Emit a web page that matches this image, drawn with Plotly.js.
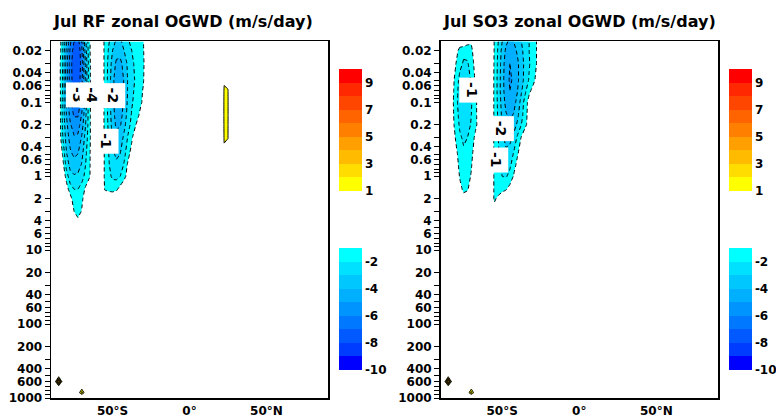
<!DOCTYPE html>
<html><head><meta charset="utf-8">
<script src="https://cdn.plot.ly/plotly-3.0.1.min.js"></script>
<style>html,body{margin:0;padding:0;background:#fff;}#chart{width:776px;height:419px;}</style>
</head><body><div id="chart"></div>
<script>
// ---- grid ----
const latSouth = [-90,-87.5,-85,-82.5,-80,-77.5,-75,-72.5,-70,-67.5,-65,-62.5,-60,-57.5,-55,-52.5,-50,-47.5,-45,-42.5,-40,-37.5,-35,-32.5,-30,-27.5,-25,-22.5];
const latNorth = [-20,-10,0,10,20,22.5,25,27.5,30,45,60,75,90];
const presUpper = [0.015,0.02,0.03,0.05,0.07,0.1,0.15,0.2,0.3,0.5,0.7,1,1.5,2,3,5];
const presLower = [10,100,400,500,600,700,850,925,1000];

// ---- RF: upper levels, southern block (m/s/day) ----
const rfSouth = [
 [0,0,0,-1.8,-3.8,-5.8,-7,-7.5,-5.8,-3.2,-1.2,0,0,0,-1.3,-1.9,-2.5,-3.2,-3.2,-2.6,-2.1,-1.8,-1.5,-1.3,-1.05,0,0,0],
 [0,0,0,-1.9,-4.2,-6.2,-7.5,-8,-6.2,-3.5,-1.2,0,0,0,-1.3,-2.1,-3,-3.6,-3.6,-3,-2.4,-2,-1.7,-1.4,-1.1,0,0,0],
 [0,0,-0.3,-2,-4.5,-6.5,-7.8,-8,-6.5,-3.8,-1.3,0,0,0,-1.3,-2.3,-3.4,-4.2,-4.3,-3.6,-2.8,-2.2,-1.8,-1.5,-1.15,-0.3,0,0],
 [0,0,-0.3,-2,-4.5,-6.5,-7.6,-7.8,-6.3,-3.8,-1.3,0,0,0,-1.3,-2.4,-3.7,-4.6,-4.7,-3.9,-2.9,-2.3,-1.9,-1.5,-1.1,0,0,0],
 [0,0,-0.2,-2,-4.3,-6.2,-7.2,-7.2,-5.9,-3.6,-1.3,0,0,0,-1.3,-2.4,-3.7,-4.7,-4.7,-3.9,-2.9,-2.2,-1.8,-1.4,-0.9,0,0,0],
 [0,0,0,-2.2,-4.2,-5.8,-6.8,-6.8,-5.5,-3.4,-1.3,0,0,0,-1.3,-2.4,-3.7,-4.6,-4.6,-3.8,-2.8,-2.1,-1.7,-1.3,-0.8,0,0,0],
 [0,0,0,-2.2,-4,-5.3,-6.1,-6.1,-4.9,-3.2,-1.3,0,0,0,-1.3,-2.3,-3.6,-4.4,-4.4,-3.6,-2.6,-1.9,-1.5,-0.9,0,0,0,0],
 [0,0,0,-2.1,-3.7,-4.9,-5.5,-5.5,-4.5,-3,-1.3,0,0,0,-1.3,-2.2,-3.4,-4.2,-4.1,-3.3,-2.4,-1.7,-1.1,0,0,0,0,0],
 [0,0,0,-1.9,-3.4,-4.4,-4.9,-4.8,-3.9,-2.6,-1.3,0,0,0,-1.2,-2.1,-3.1,-3.7,-3.5,-2.8,-1.9,-1.2,0,0,0,0,0,0],
 [0,0,0,-1.05,-2.9,-3.8,-4.2,-4,-3.3,-2.2,-1.2,0,0,0,-1.2,-2,-2.8,-3.2,-3,-2.3,-1.4,-0.5,0,0,0,0,0,0],
 [0,0,0,-0.5,-2.4,-3.3,-3.6,-3.5,-2.9,-2,-1.2,0,0,0,-1.2,-1.9,-2.5,-2.8,-2.6,-1.9,-0.8,0,0,0,0,0,0,0],
 [0,0,0,0,-1.4,-2.7,-2.9,-2.8,-2.4,-1.7,-1.15,0,0,0,-1.2,-1.7,-2.2,-2.3,-2,-1.4,-0.5,0,0,0,0,0,0,0],
 [0,0,0,0,-0.5,-1.5,-2,-2,-1.6,-0.8,0,0,0,0,-1.1,-1.3,-1.4,-1.2,-0.6,0,0,0,0,0,0,0,0,0],
 [0,0,0,0,0,-0.6,-1.6,-1.8,-1.3,-0.3,0,0,0,0,0,0,0,0,0,0,0,0,0,0,0,0,0,0],
 [0,0,0,0,0,0,-1,-1.6,-0.9,0,0,0,0,0,0,0,0,0,0,0,0,0,0,0,0,0,0,0],
 [0,0,0,0,0,0,0,0,0,0,0,0,0,0,0,0,0,0,0,0,0,0,0,0,0,0,0,0]
];
// RF: upper levels, equator/northern block
const rfNorth = [
 [0,0,0,0,0,0,0,0,0,0,0,0,0],
 [0,0,0,0,0,0,0,0,0,0,0,0,0],
 [0,0,0,0,0,0.3,0.3,0,0,0,0,0,0],
 [0,0,0,0,0,0.95,0.9,0,0,0,0,0,0],
 [0,0,0,0,0,1.05,1.02,0,0,0,0,0,0],
 [0,0,0,0,0,1.07,1.03,0,0,0,0,0,0],
 [0,0,0,0,0,1.07,1.03,0,0,0,0,0,0],
 [0,0,0,0,0,1.06,1.02,0,0,0,0,0,0],
 [0,0,0,0,0,1.04,1.01,0,0,0,0,0,0],
 [0,0,0,0,0,0.92,0.85,0,0,0,0,0,0],
 [0,0,0,0,0,0,0,0,0,0,0,0,0],
 [0,0,0,0,0,0,0,0,0,0,0,0,0],
 [0,0,0,0,0,0,0,0,0,0,0,0,0],
 [0,0,0,0,0,0,0,0,0,0,0,0,0],
 [0,0,0,0,0,0,0,0,0,0,0,0,0],
 [0,0,0,0,0,0,0,0,0,0,0,0,0]
];
// RF: lower levels, lat -90..-65
const rfLow = [
 [0,0,0,0,0,0,0,0,0,0,0],
 [0,0,0,0,0,0,0,0,0,0,0],
 [0,0,0,0,0,0,0,0,0,0,0],
 [0,0,0,0,0,0,0,0,0,0,0],
 [0,0,6,0,0,0,0,0,0,0,0],
 [0,0,0,0,0,0,0,0,0,0,0],
 [0,0,0,0,0,0,0,0,2.5,0,0],
 [0,0,0,0,0,0,0,0,0,0,0],
 [0,0,0,0,0,0,0,0,0,0,0]
];

// ---- SO3 ----
const soSouth = [
 [0,0,0,0,0,0,0,-0.6,-0.9,-0.5,0,0,0,0,-1.1,-2,-3,-3.8,-4.2,-4,-3.5,-3,-2.5,-2,-1.5,-0.95,0,0],
 [0,0,0,0,-0.3,-1.6,-1.8,-1.7,-1.2,-0.5,0,0,0,0,-1.1,-2.2,-3.3,-4.2,-4.6,-4.4,-3.8,-3.2,-2.6,-2,-1.5,-0.95,0,0],
 [0,0,0,0,-1,-1.8,-2.1,-2.1,-1.6,-0.6,0,0,0,0,-1.15,-2.3,-3.5,-4.5,-5,-4.8,-4.2,-3.4,-2.7,-2.1,-1.5,-0.95,0,0],
 [0,0,0,-0.3,-1.6,-2.2,-2.5,-2.4,-1.9,-0.9,0,0,0,0,-1.2,-2.4,-3.6,-4.6,-5.1,-4.9,-4.2,-3.4,-2.6,-1.9,-1.3,-0.7,0,0],
 [0,0,0,-0.5,-1.7,-2.3,-2.6,-2.5,-2,-1.05,-0.2,0,0,0,-1.2,-2.4,-3.6,-4.5,-5,-4.7,-4,-3.1,-2.2,-1.2,-0.7,0,0,0],
 [0,0,0,-0.6,-1.8,-2.3,-2.6,-2.6,-2.1,-1.3,-0.5,0,0,0,-1.2,-2.3,-3.4,-4.3,-4.7,-4.4,-3.6,-2.6,-1.5,-0.6,0,0,0,0],
 [0,0,0,-0.5,-1.7,-2.2,-2.5,-2.5,-2,-1.3,-0.5,0,0,0,-1.2,-2.2,-3.2,-3.9,-4.2,-3.9,-3.2,-2.3,-1.4,-0.5,0,0,0,0],
 [0,0,0,-0.4,-1.6,-2.1,-2.4,-2.4,-1.9,-1.3,-0.6,0,0,0,-1.2,-2.1,-3,-3.6,-3.8,-3.5,-2.8,-2,-1.3,-0.4,0,0,0,0],
 [0,0,0,0,-1.2,-1.9,-2.1,-2,-1.6,-0.8,0,0,0,0,-1.2,-2,-2.8,-3.3,-3.3,-2.7,-1.8,-0.9,0,0,0,0,0,0],
 [0,0,0,0,-0.6,-1.6,-1.9,-1.8,-1.3,-0.4,0,0,0,0,-1.25,-1.9,-2.5,-2.8,-2.6,-1.9,-1.1,-0.3,0,0,0,0,0,0],
 [0,0,0,0,-0.3,-1.4,-1.7,-1.6,-1.1,-0.2,0,0,0,0,-1.25,-1.8,-2.3,-2.5,-2.2,-1.5,-0.6,0,0,0,0,0,0,0],
 [0,0,0,0,0,-1.1,-1.5,-1.4,-0.9,0,0,0,0,0,-1.2,-1.7,-2,-2.1,-1.7,-0.9,0,0,0,0,0,0,0,0],
 [0,0,0,0,0,-0.6,-1.25,-1.1,-0.5,0,0,0,0,0,-1.2,-1.4,-1.3,-1.1,-0.6,0,0,0,0,0,0,0,0,0],
 [0,0,0,0,0,-0.2,-0.6,-0.5,0,0,0,0,0,-0.3,-1.15,-0.8,-0.3,0,0,0,0,0,0,0,0,0,0,0],
 [0,0,0,0,0,0,0,0,0,0,0,0,0,0,-0.6,0,0,0,0,0,0,0,0,0,0,0,0,0],
 [0,0,0,0,0,0,0,0,0,0,0,0,0,0,0,0,0,0,0,0,0,0,0,0,0,0,0,0]
];
const soNorth = presUpper.map(() => latNorth.map(() => 0));
const soLow = [
 [0,0,0,0,0,0,0,0,0,0,0],
 [0,0,0,0,0,0,0,0,0,0,0],
 [0,0,0,0,0,0,0,0,0,0,0],
 [0,0,0,0,0,0,0,0,0,0,0],
 [0,0,6,0,0,0,0,0,0,0,0],
 [0,0,0,0,0,0,0,0,0,0,0],
 [0,0,0,0,0,0,0,0,2.5,0,0],
 [0,0,0,0,0,0,0,0,0,0,0],
 [0,0,0,0,0,0,0,0,0,0,0]
];

// ---- labels / ticks / colours ----
const titles = ['Jul RF zonal OGWD (m/s/day)', 'Jul SO3 zonal OGWD (m/s/day)'];
const rfLabelText = ['-3','-4','-2','-1'];
const rfLabelLat = [-72.3,-63.4,-50,-54];
const rfLabelP = [0.08,0.08,0.08,0.34];
const soLabelText = ['-1','-2','-1'];
const soLabelLat = [-70,-50.2,-54.1];
const soLabelP = [0.069,0.226,0.6];
const pTickVals = [0.02,0.03,0.04,0.05,0.06,0.07,0.08,0.09,0.1,0.2,0.3,0.4,0.5,0.6,0.7,0.8,0.9,1,2,3,4,5,6,7,8,9,10,20,30,40,50,60,70,80,90,100,200,300,400,500,600,700,800,900,1000];
const pTickText = ['0.02','','0.04','','0.06','','','','0.1','0.2','','0.4','','0.6','','','','1','2','','4','','6','','','','10','20','','40','','60','','','','100','200','','400','','600','','','','1000'];
const latTickVals = [-50,0,50];
const latTickText = ['50°S','0°','50°N'];
const posColors = ['#ffff00','#ffdd00','#ffbb00','#ff9f00','#ff8000','#ff6400','#ff4600','#ff2800','#ff0000'];
const negColors = ['#00ffff','#00e0ff','#00c8ff','#00b0ff','#0094ff','#0078ff','#005aff','#003cff','#0000ff'];
const posTicks = [1,3,5,7,9];
const negTicks = [-2,-4,-6,-8,-10];

// ---- build ----
const lat = latSouth.concat(latNorth);
const pres = presUpper.concat(presLower);
function buildGrid(south, north, low) {
  const z = [];
  for (let i = 0; i < presUpper.length; i++) z.push(south[i].concat(north[i]));
  for (let i = 0; i < presLower.length; i++) {
    const row = low[i].slice();
    while (row.length < lat.length) row.push(0);
    z.push(row);
  }
  return z;
}
const zRF = buildGrid(rfSouth, rfNorth, rfLow);
const zSO = buildGrid(soSouth, soNorth, soLow);

function fillScale(colors) {
  const s = [[0, 'rgba(255,255,255,0)']];
  colors.forEach((c, i) => s.push([(i + 1) / 10, c]));
  s.push([1, colors[colors.length - 1]]);
  return s;
}
function contourTrace(z, colors, dash, xa, ya) {
  return {type: 'contour', x: lat, y: pres, z: z, xaxis: xa, yaxis: ya,
    autocontour: false, contours: {start: 1, end: 10, size: 1, coloring: 'fill', showlines: true},
    colorscale: fillScale(colors), showscale: false, hoverinfo: 'skip',
    line: {color: 'black', width: 1, dash: dash, smoothing: 0}};
}
function stepScale(colors) {
  const s = [];
  colors.forEach((c, i) => { s.push([i / colors.length, c]); s.push([(i + 1) / colors.length, c]); });
  return s;
}
const tf = {family: 'DejaVu Sans', size: 12, color: 'black', weight: 'bold'};
function barTrace(zmin, zmax, colors, ticks, xPx, yPx) {
  return {type: 'heatmap', x: [10, 11], y: [10, 11], z: [[zmin, zmax], [zmin, zmax]], zmin: zmin, zmax: zmax,
    colorscale: stepScale(colors), xaxis: 'x3', yaxis: 'y3', hoverinfo: 'skip',
    colorbar: {x: xPx / 776, xanchor: 'left', y: 1 - yPx / 419, yanchor: 'top', len: 122, lenmode: 'pixels',
      thickness: 23, thicknessmode: 'pixels', xpad: 0, ypad: 0, outlinewidth: 0, borderwidth: 0,
      ticks: '', tickvals: ticks, ticktext: ticks.map(String), tickfont: tf}};
}
const neg = z => z.map(r => r.map(v => -v));

const traces = [
  contourTrace(neg(zRF), negColors, '4px,3px', 'x', 'y'),
  contourTrace(zRF, posColors, 'solid', 'x', 'y'),
  contourTrace(neg(zSO), negColors, '4px,3px', 'x2', 'y2'),
  contourTrace(zSO, posColors, 'solid', 'x2', 'y2'),
  barTrace(1, 10, posColors, posTicks, 339, 69),
  barTrace(-10, -1, negColors.slice().reverse(), negTicks, 339, 248),
  barTrace(1, 10, posColors, posTicks, 729, 69),
  barTrace(-10, -1, negColors.slice().reverse(), negTicks, 729, 248)
];

function xAxis(dom, anchor) {
  return {domain: dom, anchor: anchor, range: [-90, 90], tickmode: 'array', tickvals: latTickVals, ticktext: latTickText,
    ticks: '', ticklabelstandoff: 1, tickfont: tf, showline: true, mirror: true, linecolor: 'black',
    linewidth: 1.5, showgrid: false, zeroline: false};
}
function yAxis(anchor) {
  return {domain: [1 - 398 / 419, 1 - 41 / 419], anchor: anchor, type: 'log', range: [3, -1.83], tickmode: 'array',
    tickvals: pTickVals, ticktext: pTickText, ticks: 'outside', ticklen: 5, tickcolor: 'black', tickwidth: 1,
    tickfont: tf, showline: true, mirror: true, linecolor: 'black', linewidth: 1.5, showgrid: false, zeroline: false};
}
const annotations = [];
[51, 440.5].forEach((px, i) => annotations.push({xref: 'paper', yref: 'paper', x: px / 776, y: 1 - 21 / 419,
  xanchor: 'left', yanchor: 'middle', showarrow: false, text: titles[i],
  font: {family: 'DejaVu Sans', size: 16, color: 'black', weight: 'bold'}}));
function addLabels(texts, lats, ps, xr, yr) {
  texts.forEach((t, i) => annotations.push({xref: xr, yref: yr, x: lats[i], y: Math.log10(ps[i]), text: t,
    textangle: 90, showarrow: false, bgcolor: 'white', borderpad: 4,
    font: {family: 'DejaVu Sans', size: 14, color: 'black', weight: 'bold'}}));
}
addLabels(rfLabelText, rfLabelLat, rfLabelP, 'x', 'y');
addLabels(soLabelText, soLabelLat, soLabelP, 'x2', 'y2');

const layout = {
  width: 776, height: 419, margin: {l: 0, r: 0, t: 0, b: 0, autoexpand: false},
  paper_bgcolor: 'white', plot_bgcolor: 'white', showlegend: false,
  font: {family: 'DejaVu Sans', color: 'black'},
  xaxis: xAxis([51 / 776, 328 / 776], 'y'),
  yaxis: yAxis('x'),
  xaxis2: xAxis([440.5 / 776, 718 / 776], 'y2'),
  yaxis2: yAxis('x2'),
  xaxis3: {domain: [0, 0.01], anchor: 'y3', range: [0, 1], visible: false},
  yaxis3: {domain: [0, 0.01], anchor: 'x3', range: [0, 1], visible: false},
  annotations: annotations
};
Plotly.newPlot('chart', traces, layout, {staticPlot: true, displayModeBar: false});
</script>
</body></html>
